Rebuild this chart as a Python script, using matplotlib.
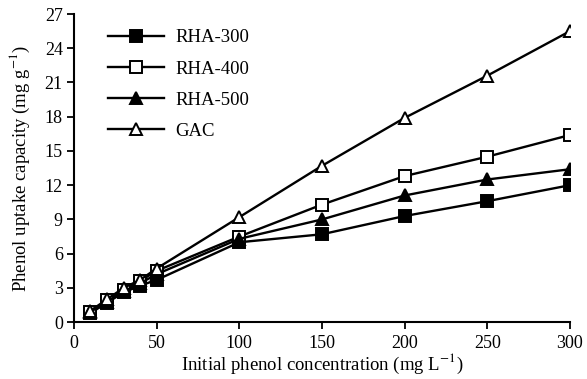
import matplotlib
matplotlib.use("Agg")
import matplotlib.pyplot as plt

conc = [10, 20, 30, 40, 50, 100, 150, 200, 250, 300]
rha300 = [0.8, 1.7, 2.6, 3.2, 3.7, 7.0, 7.7, 9.3, 10.6, 12.0]
rha400 = [0.9, 1.9, 2.8, 3.6, 4.5, 7.5, 10.3, 12.8, 14.5, 16.4]
rha500 = [0.9, 1.8, 2.7, 3.4, 4.2, 7.3, 9.0, 11.1, 12.5, 13.4]
gac = [1.0, 2.0, 3.0, 3.7, 4.7, 9.2, 13.7, 17.9, 21.6, 25.5]

plt.rcParams["font.family"] = ["Liberation Serif", "DejaVu Serif"]
plt.rcParams["mathtext.fontset"] = "stix"

fig = plt.figure(figsize=(5.87, 3.79), dpi=100)
ax = fig.add_axes([0.126, 0.150, 0.845, 0.813])

style = dict(color="black", lw=1.7, ms=8.5, mew=1.4)
ax.plot(conc, rha300, marker="s", mfc="black", label="RHA-300", **style)
ax.plot(conc, rha400, marker="s", mfc="white", label="RHA-400", **style)
ax.plot(conc, rha500, marker="^", mfc="black", label="RHA-500", **style)
ax.plot(conc, gac, marker="^", mfc="white", label="GAC", **style)

ax.set_xlim(0, 300)
ax.set_ylim(0, 27)
ax.set_xticks(range(0, 301, 50))
ax.set_yticks(range(0, 28, 3))
ax.tick_params(direction="out", length=5, width=1.3, labelsize=13)
ax.tick_params(axis="x", pad=4)
ax.tick_params(axis="y", pad=3)
for side in ["top", "right"]:
    ax.spines[side].set_visible(False)
for side in ["left", "bottom"]:
    ax.spines[side].set_linewidth(1.5)

ax.set_xlabel(r"Initial phenol concentration (mg L$^{-1}$)", fontsize=13.5, labelpad=0)
ax.set_ylabel(r"Phenol uptake capacity (mg g$^{-1}$)", fontsize=13.5, labelpad=9)

ax.legend(loc="upper left", bbox_to_anchor=(0.035, 1.005), frameon=False,
          fontsize=13.5, handlelength=3.0, labelspacing=0.75, handletextpad=0.6)

fig.savefig("out.png", dpi=100)
